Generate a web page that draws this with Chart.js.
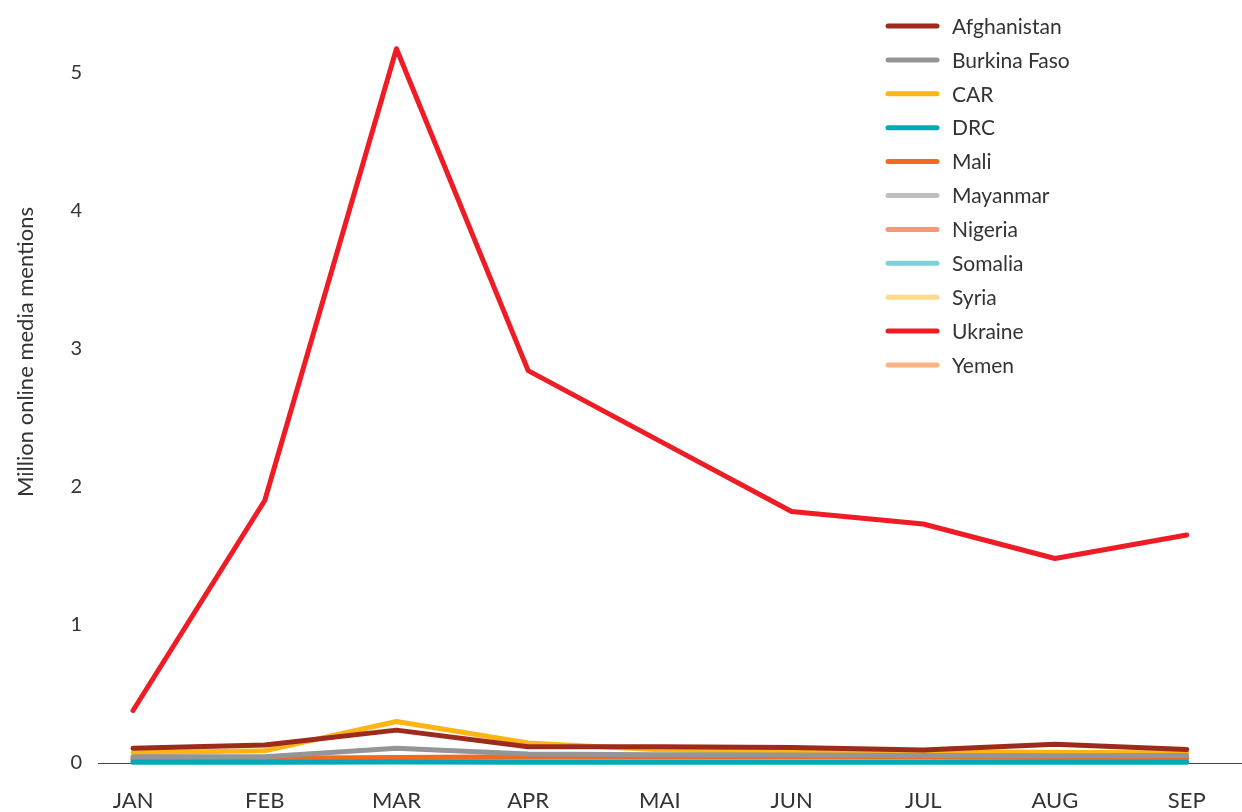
<!DOCTYPE html>
<html>
<head>
<meta charset="utf-8">
<script src="https://cdn.jsdelivr.net/npm/chart.js@4.4.1/dist/chart.umd.min.js"></script>
<style>
  html, body { margin: 0; padding: 0; background: #fff; }
  #wrap { width: 1242px; height: 812px; }
</style>
</head>
<body>
<div id="wrap"><canvas id="chart" width="1242" height="812"></canvas></div>
<script>
// months on the x axis
var months = ['JAN', 'FEB', 'MAR', 'APR', 'MAI', 'JUN', 'JUL', 'AUG', 'SEP'];

// million online media mentions per month
var afghanistan = [0.106, 0.13, 0.238, 0.118, 0.118, 0.113, 0.094, 0.135, 0.097];
var burkinaFaso = [0.045, 0.045, 0.106, 0.065, 0.06, 0.058, 0.055, 0.052, 0.055];
var car         = [0.075, 0.089, 0.30, 0.145, 0.095, 0.082, 0.08, 0.077, 0.072];
var drc         = [0.006, 0.006, 0.008, 0.006, 0.006, 0.006, 0.006, 0.006, 0.006];
var mali        = [0.034, 0.034, 0.04, 0.045, 0.045, 0.047, 0.045, 0.04, 0.035];
var mayanmar    = [0.02, 0.02, 0.025, 0.02, 0.02, 0.02, 0.02, 0.02, 0.02];
var nigeria     = [0.025, 0.025, 0.03, 0.03, 0.03, 0.03, 0.045, 0.04, 0.03];
var somalia     = [0.01, 0.01, 0.012, 0.01, 0.01, 0.01, 0.01, 0.01, 0.01];
var syria       = [0.015, 0.015, 0.02, 0.015, 0.015, 0.015, 0.015, 0.015, 0.015];
var ukraine     = [0.38, 1.90, 5.17, 2.84, 2.33, 1.82, 1.73, 1.48, 1.65];
var yemen       = [0.012, 0.012, 0.015, 0.012, 0.012, 0.012, 0.012, 0.012, 0.012];

var countries = ['Afghanistan', 'Burkina Faso', 'CAR', 'DRC', 'Mali', 'Mayanmar',
                 'Nigeria', 'Somalia', 'Syria', 'Ukraine', 'Yemen'];
var series = [afghanistan, burkinaFaso, car, drc, mali, mayanmar,
              nigeria, somalia, syria, ukraine, yemen];
var colors = ['#9E2A1B', '#939598', '#FDB515', '#00A9B7', '#F26A21', '#BCBEC0',
              '#F7977A', '#7ECFD7', '#FFD98A', '#EE1C25', '#FBB382'];

var textColor = '#333333';

var datasets = series.map(function (values, i) {
  return {
    label: countries[i],
    data: values.map(function (v, j) { return { x: j, y: v }; }),
    borderColor: colors[i],
    backgroundColor: colors[i],
    borderWidth: 5,
    borderCapStyle: 'round',
    borderJoinStyle: 'round',
    pointRadius: 0,
    tension: 0,
    clip: false
  };
});

// legend + y title drawn by hand so they sit where the original has them
var extras = {
  id: 'extras',
  afterDraw: function (chart) {
    var ctx = chart.ctx;
    ctx.save();
    ctx.font = '21px Lato';
    ctx.textBaseline = 'middle';
    ctx.textAlign = 'left';
    chart.data.datasets.forEach(function (ds, i) {
      var y = 26 + i * 33.9;
      ctx.strokeStyle = ds.borderColor;
      ctx.lineWidth = 5;
      ctx.lineCap = 'round';
      ctx.beginPath();
      ctx.moveTo(888, y);
      ctx.lineTo(937, y);
      ctx.stroke();
      ctx.fillStyle = textColor;
      ctx.fillText(ds.label, 952, y + 1);
    });

    ctx.translate(26, 352);
    ctx.rotate(-Math.PI / 2);
    ctx.textAlign = 'center';
    ctx.font = '22px Lato';
    ctx.fillText('Million online media mentions', 0, 0);
    ctx.restore();
  }
};

new Chart(document.getElementById('chart'), {
  type: 'line',
  data: { datasets: datasets },
  plugins: [extras],
  options: {
    responsive: false,
    animation: false,
    layout: { padding: { top: 0, right: 0, bottom: 0, left: 0 } },
    plugins: {
      legend: { display: false },
      tooltip: { enabled: false }
    },
    scales: {
      x: {
        type: 'linear',
        min: -0.266,
        max: 8.42,
        afterBuildTicks: function (scale) {
          scale.ticks = months.map(function (m, i) { return { value: i }; });
        },
        afterFit: function (scale) { scale.height = 49; },
        grid: { display: false, drawTicks: false },
        border: { display: true, color: '#444444', width: 1 },
        ticks: {
          autoSkip: false,
          maxRotation: 0,
          padding: 25,
          color: textColor,
          font: { family: 'Lato', size: 22 },
          callback: function (v) { return months[v]; }
        }
      },
      y: {
        min: 0,
        max: 5.32,
        afterFit: function (scale) { scale.width = 98; },
        grid: { display: false, drawTicks: false },
        border: { display: false },
        ticks: {
          stepSize: 1,
          padding: 16,
          color: textColor,
          font: { family: 'Lato', size: 20 },
          callback: function (v) { return Number.isInteger(v) ? v : ''; }
        }
      }
    }
  }
});
</script>
</body>
</html>
